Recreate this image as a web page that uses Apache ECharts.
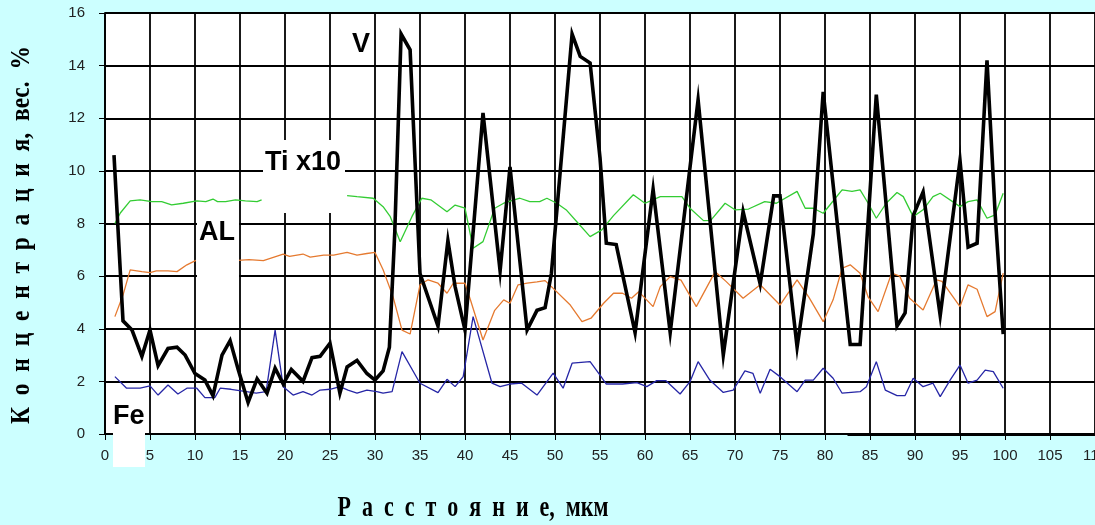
<!DOCTYPE html>
<html><head><meta charset="utf-8">
<script src="https://cdn.jsdelivr.net/npm/echarts@6/dist/echarts.min.js"></script>
<style>html,body{margin:0;padding:0;background:#ccffff;}#c{width:1095px;height:525px;}</style>
</head><body><div id="c"></div>
<script>
// x tick labels (мкм) and y tick labels (вес. %)
const X_TICKS = [0,5,10,15,20,25,30,35,40,45,50,55,60,65,70,75,80,85,90,95,100,105,110];
const Y_TICKS = [0,2,4,6,8,10,12,14,16];

// V (black) — [distance, concentration]
const V = [[1,10.6],[2,4.3],[3,3.95],[4.1,2.95],[5,3.95],[5.9,2.6],[7,3.25],[8,3.3],[8.9,3.0],[10,2.3],[11.1,2.05],[12,1.45],[13,3.0],[13.9,3.55],[14.8,2.45],[15.9,1.2],[16.9,2.1],[18,1.55],[18.9,2.5],[19.8,1.9],[20.7,2.45],[22,2.0],[23,2.9],[23.9,2.95],[25,3.45],[26.1,1.55],[26.9,2.55],[28,2.8],[29.1,2.3],[30,2.05],[30.9,2.4],[31.6,3.3],[32.2,7.7],[32.9,15.2],[33.9,14.6],[35,6.1],[37,4.1],[38.1,7.35],[38.9,5.6],[40,3.95],[42,12.2],[43.9,6.2],[45,10.15],[46.9,3.95],[48,4.7],[48.9,4.8],[49.6,6.1],[51.9,15.2],[52.8,14.35],[53.9,14.1],[55,10.5],[55.7,7.25],[56.8,7.2],[58.9,3.85],[60.9,9.3],[62.8,3.85],[65.9,12.7],[68.7,3.0],[70.9,8.45],[72.8,5.7],[74.3,9.05],[75,9.05],[76.9,3.3],[78.7,7.6],[79.8,13.0],[82.8,3.4],[83.9,3.4],[85.7,12.9],[88,4.1],[88.9,4.6],[89.8,8.3],[90.9,9.2],[92.8,4.5],[95,10.4],[95.9,7.1],[96.9,7.25],[98,14.2],[98.9,8.4],[99.8,3.8]];

// Ti x10 (green)
const TI = [[1.1,8.0],[1.7,8.4],[2.8,8.86],[3.9,8.9],[5.2,8.83],[6.3,8.83],[7.4,8.71],[8.7,8.77],[10.2,8.86],[11.2,8.83],[12,8.93],[12.5,8.83],[13.4,8.83],[14.5,8.9],[15.6,8.86],[16.9,8.83],[17.4,8.9],[22,null],[26.9,9.06],[28,9.02],[29.8,8.96],[30.9,8.64],[31.7,8.26],[32.8,7.31],[34.1,8.26],[35.2,8.96],[36.2,8.9],[38,8.45],[38.9,8.7],[40,8.58],[40.9,7.06],[42,7.31],[43.3,8.58],[44.3,8.77],[46.1,8.96],[47.2,8.83],[48.3,8.83],[49.1,8.96],[50.2,8.77],[51.3,8.5],[52.6,8.0],[53.9,7.5],[55.2,7.76],[56.5,8.3],[58.7,9.09],[60,8.77],[61.7,9.02],[64.1,9.02],[65,8.58],[66.5,8.11],[67.3,8.12],[68.9,8.77],[70,8.52],[71.5,8.55],[73.3,8.83],[74.6,8.77],[76.9,9.22],[77.8,8.58],[78.7,8.58],[79.8,8.39],[80.7,8.77],[81.9,9.28],[83,9.22],[83.9,9.28],[84.8,8.77],[85.7,8.2],[86.8,8.77],[88,9.18],[88.7,9.02],[89.8,8.26],[90.9,8.52],[92,9.02],[92.8,9.15],[95,8.64],[95.9,8.83],[96.9,8.9],[98,8.2],[98.9,8.33],[99.8,9.15]];

// AL (orange)
const AL = [[1.1,4.46],[2,5.28],[2.8,6.24],[4.1,6.17],[5,6.13],[5.7,6.2],[7,6.2],[8,6.17],[9.1,6.43],[10.1,6.6],[12,null],[14.8,6.6],[16,6.63],[17.6,6.59],[19.8,6.84],[20.5,6.75],[22,6.84],[22.8,6.72],[24.3,6.8],[25.4,6.8],[26.9,6.9],[28,6.8],[29.1,6.86],[30,6.9],[30.9,6.24],[32,5.22],[33,3.95],[33.9,3.8],[35,5.67],[35.9,5.86],[37,5.73],[38,5.35],[38.7,5.73],[40,5.73],[40.6,5.1],[42,3.57],[43.3,4.7],[44.3,5.1],[45,4.97],[45.9,5.67],[46.9,5.73],[48,5.78],[48.9,5.83],[49.6,5.6],[51.7,4.9],[53,4.27],[54,4.4],[55.4,4.97],[56.5,5.35],[57.5,5.35],[58.5,5.16],[59.3,5.41],[60.9,4.84],[61.7,5.6],[62.8,5.98],[64,5.85],[65.7,4.84],[67.8,6.17],[69,5.8],[70.9,5.16],[72.8,5.67],[75,4.9],[76.9,5.86],[78.2,5.2],[79.8,4.27],[80.9,5.1],[81.9,6.3],[82.8,6.43],[83.9,6.11],[84.8,5.2],[85.9,4.65],[87.4,6.11],[88.3,6.0],[89.4,5.16],[90.9,4.71],[92.4,5.86],[93,5.8],[95,4.84],[95.9,5.67],[96.9,5.5],[98,4.46],[98.9,4.65],[99.8,6.11]];

// Fe (blue)
const FE = [[1.1,2.18],[2.4,1.74],[3.9,1.74],[5,1.83],[5.9,1.48],[7,1.86],[8.1,1.52],[9.1,1.74],[10.2,1.74],[11.1,1.38],[12.2,1.38],[12.8,1.74],[14,1.7],[15.7,1.61],[16.8,1.55],[17.9,1.61],[18.9,3.95],[19.8,1.8],[20.9,1.48],[22,1.61],[23,1.48],[23.9,1.67],[25,1.7],[26.1,1.8],[27,1.67],[28,1.55],[29.1,1.67],[30.2,1.61],[30.9,1.55],[31.9,1.61],[33,3.13],[35,1.93],[37,1.57],[38,2.08],[38.9,1.8],[39.8,2.18],[40.9,4.46],[43,1.93],[43.9,1.8],[45,1.9],[46.3,1.93],[48,1.48],[49.8,2.31],[50.9,1.74],[51.9,2.69],[53.9,2.75],[55,2.24],[55.7,1.9],[57.5,1.9],[59.1,1.95],[60.2,1.8],[61.3,2.03],[62.3,2.03],[63.9,1.52],[65,1.99],[65.9,2.75],[67.2,2.05],[68.7,1.58],[69.8,1.67],[71.1,2.4],[72,2.3],[72.8,1.55],[73.9,2.46],[75,2.18],[76.9,1.61],[77.8,2.05],[78.7,2.05],[79.8,2.5],[80.9,2.12],[81.9,1.55],[83.9,1.61],[84.6,1.8],[85.7,2.75],[86.7,1.67],[88,1.46],[88.9,1.46],[89.8,2.12],[90.9,1.8],[92,1.93],[92.8,1.42],[93.9,2.05],[95,2.62],[95.9,1.93],[96.9,2.05],[97.8,2.43],[98.7,2.37],[99.8,1.74]];

const chart = echarts.init(document.getElementById('c'), null, {renderer:'canvas'});
const tickFont = {fontFamily:'"Liberation Sans", Arial, sans-serif', fontSize:15, color:'#222'};
const lbl = (t) => ({fontFamily:'"Liberation Sans", Arial, sans-serif', fontWeight:'bold', fontSize:27, fill:'#000', text:t, align:'left', verticalAlign:'top', textAlign:'left', textVerticalAlign:'top'});
chart.setOption({
  animation:false,
  backgroundColor:'#ccffff',
  grid:{left:105, right:0, top:13, bottom:91, show:true, backgroundColor:'#fff', borderWidth:0, containLabel:false, outerBoundsMode:'none'},
  xAxis:{type:'value', min:X_TICKS[0], max:X_TICKS[X_TICKS.length-1], interval:5,
    axisLine:{show:true, lineStyle:{color:'#000', width:1.5}},
    axisTick:{show:true, length:6, lineStyle:{color:'#000', width:1}},
    axisLabel:Object.assign({margin:14, showMaxLabel:true, hideOverlap:false}, tickFont),
    splitLine:{show:true, lineStyle:{color:'#000', width:1.8}}},
  yAxis:{type:'value', min:Y_TICKS[0], max:Y_TICKS[Y_TICKS.length-1], interval:2,
    axisLine:{show:true, lineStyle:{color:'#000', width:1.8}},
    axisTick:{show:true, length:6, lineStyle:{color:'#000', width:1}},
    axisLabel:Object.assign({margin:20}, tickFont),
    splitLine:{show:true, lineStyle:{color:'#000', width:1.8}}},
  series:[
    {name:'Fe', type:'line', data:FE, symbol:'none', lineStyle:{color:'#2626a6', width:1.3}, z:3},
    {name:'AL', type:'line', data:AL, symbol:'none', lineStyle:{color:'#e57a30', width:1.3}, z:3},
    {name:'Ti x10', type:'line', data:TI, symbol:'none', lineStyle:{color:'#33cc33', width:1.3}, z:3},
    {name:'V', type:'line', data:V, symbol:'none', lineStyle:{color:'#000', width:3.6, join:'miter'}, z:4,
      markLine:{silent:true, symbol:['none','none'], label:{show:false},
        lineStyle:{color:'#000', width:3, type:'solid'},
        data:[[{coord:[82.5,0]},{coord:[110,0]}]]}}
  ],
  graphic:{elements:[
    {type:'rect', z:100, shape:{x:263, y:140, width:82, height:73}, style:{fill:'#fff'}},
    {type:'rect', z:100, shape:{x:197, y:213, width:42, height:70}, style:{fill:'#fff'}},
    {type:'rect', z:100, shape:{x:113, y:400, width:32, height:67}, style:{fill:'#fff'}},
    {type:'text', z:101, x:352, y:31, style:lbl('V')},
    {type:'text', z:101, x:265, y:149, style:lbl('Ti x10')},
    {type:'text', z:101, x:199, y:219, style:lbl('AL')},
    {type:'text', z:101, x:113, y:403, style:lbl('Fe')},
    {type:'text', z:101, x:473, y:509, scaleY:1.3,
      style:{text:'Р  а  с  с  т  о  я  н  и  е,  мкм', fontFamily:'"Liberation Serif", "Times New Roman", serif', fontWeight:'bold', fontSize:22, fill:'#000', align:'center', verticalAlign:'middle', textAlign:'center', textVerticalAlign:'middle'}},
    {type:'text', z:101, x:22, y:235, rotation:Math.PI/2, scaleY:1.2,
      style:{text:'К  о  н  ц  е  н  т  р  а  ц  и  я,  вес.  %', fontFamily:'"Liberation Serif", "Times New Roman", serif', fontWeight:'bold', fontSize:23.5, fill:'#000', align:'center', verticalAlign:'middle', textAlign:'center', textVerticalAlign:'middle'}}
  ]}
});
</script></body></html>
